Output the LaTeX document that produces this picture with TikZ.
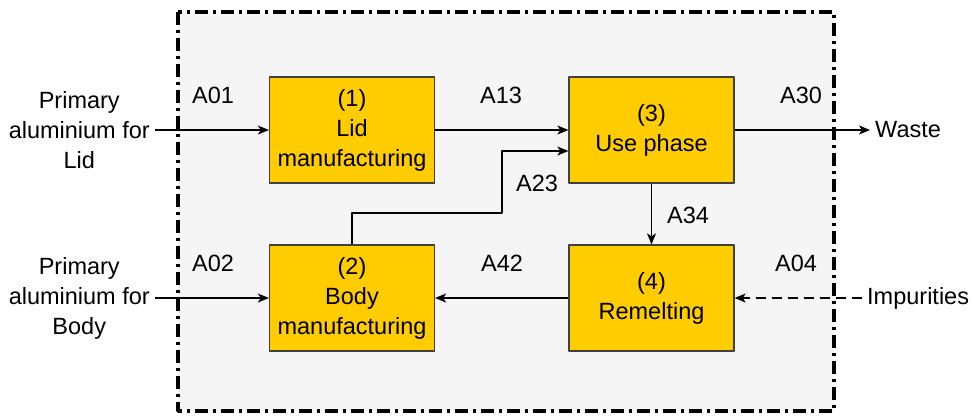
\documentclass[tikz,border=0pt]{standalone}
\usepackage{fontspec}
\setmainfont{Liberation Sans}
\usetikzlibrary{arrows.meta}

\definecolor{boxfill}{RGB}{255,204,0}
\definecolor{framefill}{RGB}{245,245,245}

\tikzset{
    process/.style={rectangle, draw=black!75, line width=1.3pt, fill=boxfill,
        minimum width=165pt, minimum height=106pt, align=center, inner sep=0pt},
    extlabel/.style={align=center, inner sep=5pt},
    flowlabel/.style={inner sep=0pt},
    flow/.style={line width=1.2pt, -{Stealth[length=11pt, width=9pt, inset=3pt]}},
}

\begin{document}
\begin{tikzpicture}[x=1pt, y=-1pt, line join=round,
    font=\fontsize{23.5}{30}\selectfont]
    \useasboundingbox (0,0) rectangle (971,416);

    % system boundary
    \draw[fill=framefill, line width=3.5pt,
        dash pattern=on 13pt off 5pt on 3pt off 5pt] (178,12) rectangle (834,411);

    % processes
    \node[process] (lid)  at (352,130)   {(1)\\Lid\\manufacturing};
    \node[process] (use)  at (651.5,130) {(3)\\Use phase};
    \node[process] (body) at (352,298)   {(2)\\Body\\manufacturing};
    \node[process] (melt) at (651.5,298) {(4)\\Remelting};

    % inputs and outputs
    \node[extlabel, anchor=east] (lidin)  at (155,130) {Primary\\aluminium for\\Lid};
    \node[extlabel, anchor=east] (bodyin) at (155,298) {Primary\\aluminium for\\Body};
    \node[extlabel, anchor=west] (waste)  at (870,130) {Waste};
    \node[extlabel, anchor=west] (impur)  at (862,298) {Impurities};

    \coordinate (bend) at (502,213);

    \draw[flow] (lidin) -- (lid);
    \draw[flow] (bodyin) -- (body);
    \draw[flow] (lid) -- (use);
    \draw[flow] (use) -- (waste);
    \draw[flow] (use) -- (melt);
    \draw[flow] (melt) -- (body);
    \draw[flow] (body.north) |- (bend) |- ([yshift=-21pt]use.west);
    \draw[flow, dashed, dash pattern=on 10pt off 6pt] (impur) -- (melt);

    % flow labels
    \node[flowlabel] (a01) at (213,95)  {A01};
    \node[flowlabel] (a13) at (501,95)  {A13};
    \node[flowlabel] (a30) at (801,95)  {A30};
    \node[flowlabel] (a23) at (537,183) {A23};
    \node[flowlabel] (a34) at (688,215) {A34};
    \node[flowlabel] (a02) at (213,263) {A02};
    \node[flowlabel] (a42) at (502,263) {A42};
    \node[flowlabel] (a04) at (796,263) {A04};
\end{tikzpicture}
\end{document}
